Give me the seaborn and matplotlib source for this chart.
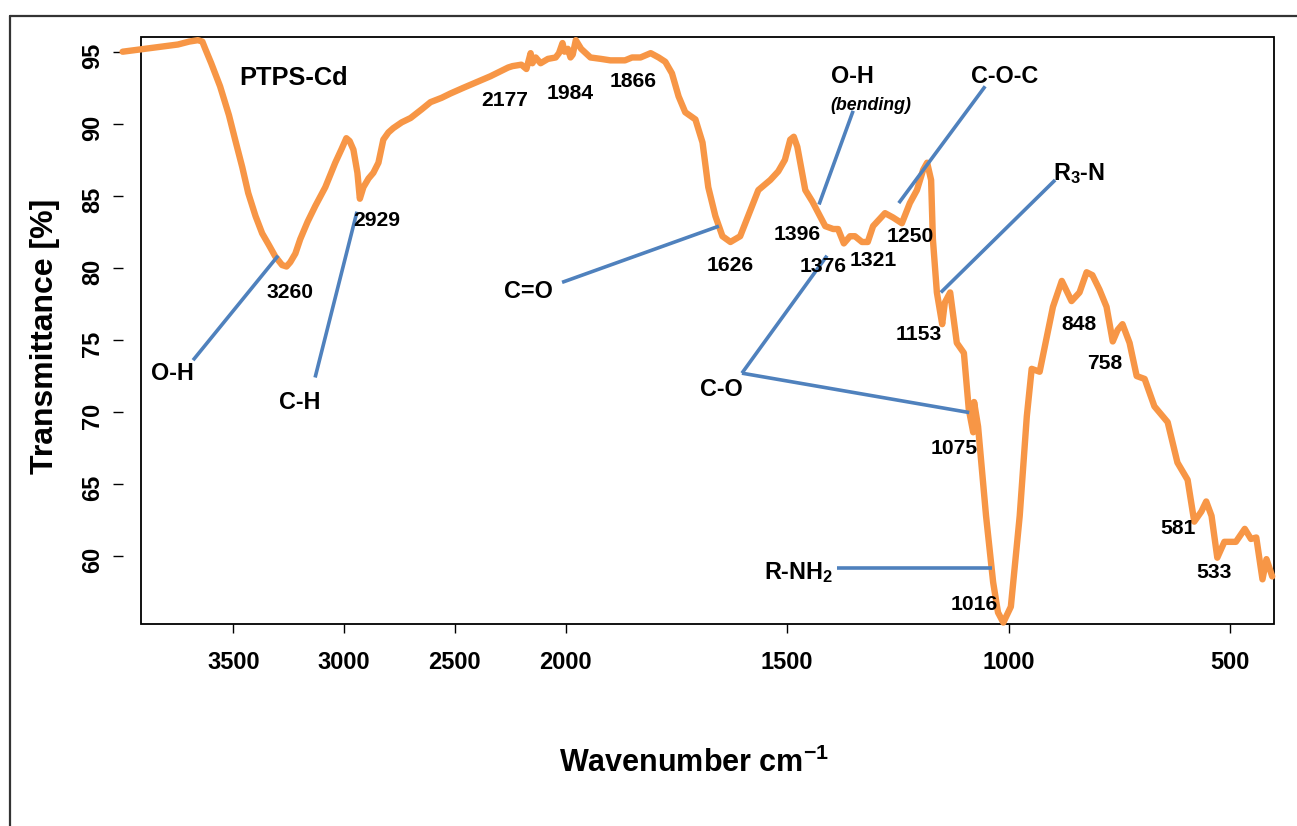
import numpy as np
import matplotlib
matplotlib.use("Agg")
import matplotlib.pyplot as plt
import seaborn as sns
from matplotlib.patches import Rectangle
from matplotlib.lines import Line2D

# ---------------- data ----------------
wavenumber = [4000, 3950, 3900, 3850, 3800, 3750, 3700, 3660, 3640, 3627, 3600, 3560, 3520, 3492,
              3460, 3433, 3400, 3370, 3340, 3311, 3280, 3260, 3243, 3220, 3198, 3165, 3130, 3085,
              3040, 3010, 2990, 2975, 2958, 2940, 2929, 2913, 2890, 2868, 2845, 2823, 2800, 2778,
              2740, 2700, 2650, 2610, 2560, 2520, 2461, 2400, 2339, 2300, 2260, 2240, 2200, 2177,
              2165, 2158, 2150, 2135, 2113, 2080, 2045, 2030, 2014, 2005, 1995, 1989, 1984, 1977,
              1965, 1944, 1920, 1899, 1866, 1850, 1831, 1808, 1790, 1775, 1760, 1745, 1730, 1707,
              1691, 1678, 1662, 1646, 1628, 1606, 1588, 1565, 1538, 1520, 1505, 1493, 1485, 1477,
              1459, 1443, 1414, 1396, 1385, 1372, 1358, 1347, 1331, 1318, 1306, 1279, 1261, 1241,
              1223, 1207, 1193, 1184, 1175, 1171, 1162, 1150, 1144, 1132, 1117, 1101, 1090, 1080,
              1078, 1069, 1051, 1035, 1024, 1012, 995, 975, 959, 948, 930, 914, 900, 880, 858, 840,
              824, 811, 795, 779, 765, 754, 743, 727, 711, 693, 671, 641, 619, 596, 581, 565, 554,
              542, 529, 513, 487, 467, 453, 441, 427, 418, 405]
transmittance = [95.0, 95.1, 95.2, 95.3, 95.4, 95.5, 95.7, 95.8, 95.7, 95.2, 94.2, 92.6, 90.6, 88.9,
                 87.0, 85.2, 83.6, 82.4, 81.6, 80.8, 80.2, 80.1, 80.4, 81.0, 82.0, 83.2, 84.3, 85.6,
                 87.3, 88.3, 89.0, 88.8, 88.2, 86.6, 84.8, 85.6, 86.2, 86.6, 87.3, 88.9, 89.4, 89.7,
                 90.1, 90.4, 91.0, 91.5, 91.8, 92.1, 92.5, 92.9, 93.3, 93.6, 93.9, 94.0, 94.1, 93.8,
                 94.5, 94.9, 94.2, 94.6, 94.2, 94.5, 94.6, 94.9, 95.6, 95.0, 95.2, 94.6, 94.8, 95.8,
                 95.2, 94.6, 94.5, 94.4, 94.4, 94.6, 94.6, 94.9, 94.6, 94.3, 93.5, 91.9, 90.8, 90.3,
                 88.7, 85.6, 83.6, 82.2, 81.8, 82.2, 83.6, 85.4, 86.1, 86.7, 87.5, 88.9, 89.1, 88.4,
                 85.4, 84.6, 82.9, 82.7, 82.7, 81.7, 82.2, 82.2, 81.8, 81.8, 82.9, 83.8, 83.5, 83.1,
                 84.5, 85.4, 86.8, 87.3, 86.1, 82.0, 78.3, 76.1, 77.6, 78.3, 74.8, 74.1, 70.2, 68.6,
                 70.7, 69.0, 62.8, 58.2, 56.1, 55.4, 56.5, 62.8, 69.7, 73.0, 72.8, 75.2, 77.3, 79.1,
                 77.7, 78.3, 79.7, 79.5, 78.5, 77.3, 74.9, 75.7, 76.1, 74.8, 72.5, 72.3, 70.4, 69.3,
                 66.5, 65.3, 62.4, 63.1, 63.8, 62.8, 59.9, 61.0, 61.0, 61.9, 61.2, 61.3, 58.4, 59.8,
                 58.6]
x_ticks = [3500, 3000, 2500, 2000, 1500, 1000, 500]
y_ticks = [60, 65, 70, 75, 80, 85, 90, 95]
sample_name = "PTPS-Cd"
peak_labels = ["3260", "2929", "2177", "1984", "1866", "1626", "1396", "1376", "1321",
               "1250", "1153", "1075", "1016", "848", "758", "581", "533"]
group_labels = ["O-H", "C-H", "C=O", "O-H", "(bending)", "C-O-C", "R$_3$-N", "C-O", "R-NH$_2$"]
x_label = "Wavenumber cm$^{\\mathregular{-1}}$"
y_label = "Transmittance [%]"

# ---------------- style ----------------
sns.set_style("white")
FONT = ["Liberation Sans", "DejaVu Sans"]
plt.rcParams["font.family"] = FONT
plt.rcParams["font.weight"] = "bold"
plt.rcParams["text.color"] = "black"
plt.rcParams["axes.labelcolor"] = "black"
plt.rcParams["xtick.color"] = "black"
plt.rcParams["ytick.color"] = "black"
plt.rcParams["mathtext.fontset"] = "custom"
plt.rcParams["mathtext.rm"] = "Liberation Sans:bold"
plt.rcParams["mathtext.bf"] = "Liberation Sans:bold"
plt.rcParams["mathtext.it"] = "Liberation Sans:italic:bold"
plt.rcParams["mathtext.default"] = "rm"

ORANGE = "#F79646"
BLUE = "#4F81BD"

W, H = 1297, 826
fig = plt.figure(figsize=(W / 100, H / 100), dpi=100)
ax = fig.add_axes([141 / W, 1 - 624 / H, (1274 - 141) / W, (624 - 37) / H])


def fwd(w):
    w = np.asarray(w, dtype=float)
    return np.where(w > 2000, 2000 + (w - 2000) / 2.0, w)


def inv(u):
    u = np.asarray(u, dtype=float)
    return np.where(u > 2000, 2000 + 2.0 * (u - 2000), u)


ax.set_xscale("function", functions=(fwd, inv))

sns.lineplot(x=wavenumber, y=transmittance, sort=False, estimator=None, ax=ax,
             color=ORANGE, lw=4.6, clip_on=False, solid_joinstyle="round",
             solid_capstyle="round", zorder=3)

ax.set_xlim(3917, 401)
ax.set_ylim(55.3, 96.02)
ax.set_xticks(x_ticks)
ax.set_xticklabels([str(t) for t in x_ticks], fontweight="bold")
ax.set_yticks(y_ticks)
ax.set_yticklabels([str(t) for t in y_ticks], fontweight="bold")
ax.xaxis.set_minor_locator(matplotlib.ticker.NullLocator())
ax.yaxis.set_minor_locator(matplotlib.ticker.NullLocator())
ax.set_xlabel("")
ax.set_ylabel("")

ax.tick_params(axis="x", direction="out", length=6.5, width=1.0, pad=13, labelsize=17,
               bottom=True, colors="black")
ax.tick_params(axis="y", direction="out", length=7.2, width=1.0, pad=6.5, labelsize=17,
               left=True, colors="black", labelrotation=90)
for lab in ax.get_yticklabels():
    lab.set_va("center")

ax.spines["left"].set_position(("outward", 13))
for s in ax.spines.values():
    s.set_visible(False)
ax.add_patch(Rectangle((0, 0), 1, 1, transform=ax.transAxes, fill=False,
                       ec="black", lw=1.3, clip_on=False, zorder=2))

# ---------------- annotations ----------------
NUM = 15.2
GRP = 16.8


def note(txt, w, y, size=NUM, ha="center", va="center", style="normal"):
    ax.text(w, y, txt, fontsize=size, fontweight="bold", ha=ha, va=va,
            style=style, color="black", zorder=5)


def leader(w1, y1, w2, y2):
    ax.add_line(Line2D([w1, w2], [y1, y2], color=BLUE, lw=2.6, clip_on=False,
                       solid_capstyle="butt", zorder=4))


note(sample_name, 3226, 93.2, size=18.3)

peak_pos = [(3244, 78.3), (2851, 83.3), (2274, 91.6), (1990, 92.1), (1848, 92.9),
            (1629, 80.16), (1478, 82.3), (1419, 80.1), (1306, 80.5), (1223, 82.2),
            (1202, 75.4), (1123, 67.5), (1078, 56.65), (841, 76.1), (784, 73.4),
            (618, 61.9), (537, 58.9)]
for txt, (w, y) in zip(peak_labels, peak_pos):
    note(txt, w, y)

# group labels
note(group_labels[0], 3777, 72.7, size=GRP)
note(group_labels[1], 3199, 70.7, size=GRP)
note(group_labels[2], 2170, 78.4, size=GRP)
note(group_labels[3], 1353, 93.3, size=GRP)
note(group_labels[4], 1311, 91.3, size=12.8, style="italic")
note(group_labels[5], 1010, 93.3, size=GRP)
note(group_labels[6], 900, 86.1, size=GRP, ha="left", va="baseline")
note(group_labels[7], 1649, 71.6, size=GRP)
note(group_labels[8], 1396, 58.4, size=GRP, ha="right", va="baseline")

leader(3682, 73.6, 3298, 80.85)     # O-H
leader(3131, 72.4, 2942, 83.9)      # C-H
leader(2016, 79.0, 1654, 82.9)      # C=O
leader(1351, 90.9, 1428, 84.4)      # O-H bending
leader(1053, 92.6, 1248, 84.5)      # C-O-C
leader(895, 86.1, 1153, 78.3)       # R3-N
leader(1602, 72.7, 1410, 80.85)     # C-O (upper)
leader(1602, 72.7, 1089, 69.97)     # C-O (lower)
leader(1388, 59.2, 1038, 59.2)      # R-NH2

# axis titles
fig.text(45 / W, 1 - 336 / H, y_label, rotation=90, ha="center", va="center",
         fontsize=23, fontweight="bold")
fig.text(694 / W, 1 - 763 / H, x_label, ha="center", va="center",
         fontsize=22, fontweight="bold")

# outer frame
fig.add_artist(Line2D([10 / W, 10 / W], [0, 1 - 16 / H], transform=fig.transFigure,
                      color="#333333", lw=1.6))
fig.add_artist(Line2D([10 / W, 1], [1 - 16 / H, 1 - 16 / H], transform=fig.transFigure,
                      color="#333333", lw=1.6))

fig.savefig("out.png", dpi=100, facecolor="white")
